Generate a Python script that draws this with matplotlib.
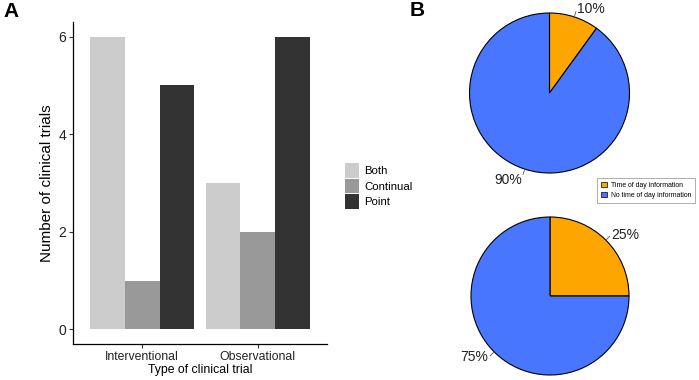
import numpy as np
import matplotlib.pyplot as plt
from matplotlib.patches import Patch

plt.rcParams['font.family'] = ['Liberation Sans', 'DejaVu Sans']

# panel A data
trial_types = ['Interventional', 'Observational']
groups = ['Both', 'Continual', 'Point']
counts = {'Both': [6, 3], 'Continual': [1, 2], 'Point': [5, 6]}
bar_colors = {'Both': '#CCCCCC', 'Continual': '#999999', 'Point': '#333333'}

# panel B data
pie_labels = ['Time of day information', 'No time of day information']
pie_top = [10, 90]
pie_bottom = [25, 75]
pie_colors = ['#FFA500', '#4876FF']

W, H = 699, 380
fig = plt.figure(figsize=(W / 100, H / 100), dpi=100)


def px_axes(x0, y0, x1, y1):
    # pixel box (top-left origin) -> figure axes
    return fig.add_axes([x0 / W, 1 - y1 / H, (x1 - x0) / W, (y1 - y0) / H])


# ---- panel A: grouped bars
ax = px_axes(73, 22, 327, 344)
x = np.arange(1, len(trial_types) + 1)
w = 0.3
for i, g in enumerate(groups):
    ax.bar(x + (i - 1) * w, counts[g], width=w, color=bar_colors[g], label=g)
ax.set_xlim(0.4, 2.6)
ax.set_ylim(-0.3, 6.3)
ax.set_yticks([0, 2, 4, 6])
ax.set_xticks(x)
ax.set_xticklabels(trial_types)
for s in ['top', 'right']:
    ax.spines[s].set_visible(False)
for s in ['left', 'bottom']:
    ax.spines[s].set_linewidth(0.9)
ax.tick_params(length=3, width=0.8, color='#333333', labelcolor='#222222', pad=2)
ax.tick_params(axis='x', labelsize=8.8)
ax.tick_params(axis='y', labelsize=10)
ax.set_xlabel('Type of clinical trial', fontsize=8.8, labelpad=1)
ax.set_ylabel('Number of clinical trials', fontsize=11, labelpad=3)

handles = [Patch(facecolor=bar_colors[g], edgecolor='none') for g in groups]
fig.legend(handles, groups, loc='center left', bbox_to_anchor=(345 / W, 1 - 186 / H),
           frameon=False, fontsize=8.2, handlelength=1.2, handleheight=1.6,
           labelspacing=0.08, handletextpad=0.5, borderpad=0, borderaxespad=0)


# ---- panel B: two pies
def draw_pie(box, values, dy=0.0):
    pax = px_axes(*box)
    wedges, _ = pax.pie(values, colors=pie_colors, startangle=90, counterclock=False,
                        radius=1, wedgeprops=dict(edgecolor='black', linewidth=0.8))
    start = 90
    for v in values:
        mid = np.deg2rad(start - v / 100 * 360 / 2)
        start -= v / 100 * 360
        cx, cy = np.cos(mid), np.sin(mid)
        pax.plot([cx, 1.07 * cx], [cy, 1.07 * cy], color='#555555', lw=0.6,
                 clip_on=False)
        pax.text(1.1 * cx, 1.1 * cy + (dy if cy < 0 else 0), f'{v}%', fontsize=10,
                 ha='left' if cx > 0 else 'right', va='center', color='#222222')
    pax.set_xlim(-1, 1)
    pax.set_ylim(-1, 1)
    pax.set_aspect('equal')
    pax.axis('off')


draw_pie((469.5, 12, 629.5, 174), pie_top, dy=-0.04)
draw_pie((471, 217, 629, 375), pie_bottom)

pie_handles = [Patch(facecolor=c, edgecolor='black', linewidth=0.5) for c in pie_colors]
leg = fig.legend(pie_handles, pie_labels, loc='upper left',
                 bbox_to_anchor=(597 / W, 1 - 178 / H), fontsize=4.95,
                 frameon=True, fancybox=False, edgecolor='#888888',
                 handlelength=0.9, handleheight=0.9, handletextpad=0.6,
                 labelspacing=0.4, borderpad=0.55, borderaxespad=0)
leg.get_frame().set_linewidth(0.6)

fig.text(3 / W, 1 - 2 / H, 'A', fontsize=15, fontweight='bold', va='top', ha='left')
fig.text(410 / W, 1 - 1 / H, 'B', fontsize=15, fontweight='bold', va='top', ha='left')

fig.savefig('out.png', dpi=100)
